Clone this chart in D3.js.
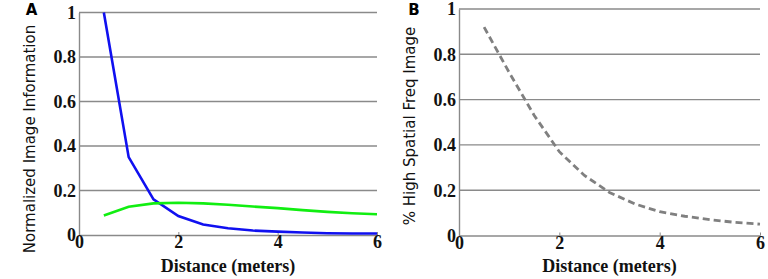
<!DOCTYPE html>
<html>
<head>
  <meta charset="utf-8" />
  <script src="https://cdnjs.cloudflare.com/ajax/libs/d3/7.8.5/d3.min.js"></script>
  <style>
    body { margin: 0; background: #fff; }
    .tick text { font-family: "Liberation Serif", serif; font-weight: bold; font-size: 18px; fill: #111; }
    .xlab { font-family: "Liberation Serif", serif; font-weight: bold; font-size: 18px; fill: #111; }
    .ylab { font-family: "DejaVu Sans", sans-serif; font-size: 15px; fill: #111; }
    .panel { font-family: "DejaVu Sans", sans-serif; font-weight: bold; font-size: 15px; fill: #000; }
  </style>
</head>
<body>
<svg width="768" height="279"></svg>
<script>
  // distances in meters
  var distance = [0.5, 1, 1.5, 2, 2.5, 3, 3.5, 4, 4.5, 5, 5.5, 6]
  // panel A
  var infoBlue  = [1.0, 0.35, 0.16, 0.085, 0.047, 0.03, 0.02, 0.015, 0.011, 0.008, 0.007, 0.007]
  var infoGreen = [0.088, 0.127, 0.142, 0.145, 0.142, 0.136, 0.128, 0.121, 0.112, 0.104, 0.098, 0.093]
  // panel B
  var highFreq  = [0.92, 0.72, 0.53, 0.37, 0.265, 0.19, 0.14, 0.105, 0.085, 0.07, 0.058, 0.05]

  var xTicks = [0, 2, 4, 6]
  var yTicks = [0, 0.2, 0.4, 0.6, 0.8, 1]

  var svg = d3.select("svg")

  function panel(opts) {
    var x = d3.scaleLinear().domain([0, 6]).range([opts.left, opts.right])
    var y = d3.scaleLinear().domain([0, 1]).range([opts.bottom, opts.top])
    var g = svg.append("g")

    // horizontal grid lines
    g.selectAll("line.grid")
      .data(yTicks.filter(d => d > 0))
      .enter().append("line")
        .attr("x1", x(0)).attr("x2", x(6))
        .attr("y1", d => y(d)).attr("y2", d => y(d))
        .attr("stroke", "#8a8a8a").attr("stroke-width", 1.4)

    // y axis
    var yAxis = g.append("g")
      .attr("transform", "translate(" + x(0) + ",0)")
      .call(d3.axisLeft(y).tickValues(yTicks).tickSize(0).tickPadding(3)
        .tickFormat(d => d === 0 ? "0" : (d === 1 ? "1" : d3.format(".1f")(d))))
    yAxis.select(".domain").attr("stroke", "#8a8a8a").attr("stroke-width", 1.4)
    yAxis.selectAll(".tick text").attr("dy", "0.33em")

    // x axis, ticks point inward
    var xAxis = g.append("g")
      .attr("transform", "translate(0," + y(0) + ")")
      .call(d3.axisBottom(x).tickValues(xTicks).tickFormat(d3.format("d"))
        .tickSizeInner(-3).tickSizeOuter(0).tickPadding(2))
    xAxis.select(".domain").attr("stroke", "#8a8a8a").attr("stroke-width", 1.4)
    xAxis.selectAll(".tick line").attr("stroke", "#8a8a8a")
    xAxis.selectAll(".tick text").attr("dy", "0.62em")

    g.append("text").attr("class", "xlab")
      .attr("x", (opts.left + opts.right) / 2).attr("y", 272)
      .attr("text-anchor", "middle").text("Distance (meters)")

    g.append("text").attr("class", "ylab")
      .attr("transform", "translate(" + opts.ylabX + "," + opts.ylabY + ") rotate(-90)")
      .attr("text-anchor", "middle").text(opts.ylabel)

    g.append("text").attr("class", "panel")
      .attr("x", opts.letterX).attr("y", 15)
      .attr("text-anchor", "middle").text(opts.letter)

    var line = d3.line().x(d => x(d[0])).y(d => y(d[1]))
    opts.series.forEach(function (s) {
      g.append("path")
        .datum(distance.map((d, i) => [d, s.values[i]]))
        .attr("fill", "none")
        .attr("stroke", s.color)
        .attr("stroke-width", s.width || 2.6)
        .attr("stroke-dasharray", s.dash || null)
        .attr("d", line)
    })
  }

  panel({
    left: 79, right: 377, top: 12.5, bottom: 235,
    ylabel: "Normalized Image Information", ylabX: 35, ylabY: 139,
    letter: "A", letterX: 31.5,
    series: [
      { values: infoBlue, color: "#1010f0" },
      { values: infoGreen, color: "#11ee11" }
    ]
  })

  panel({
    left: 459, right: 760, top: 9, bottom: 235.5,
    ylabel: "% High Spatial Freq Image", ylabX: 415, ylabY: 126,
    letter: "B", letterX: 414,
    series: [
      { values: highFreq, color: "#808080", dash: "7,4", width: 2.8 }
    ]
  })
</script>
</body>
</html>
